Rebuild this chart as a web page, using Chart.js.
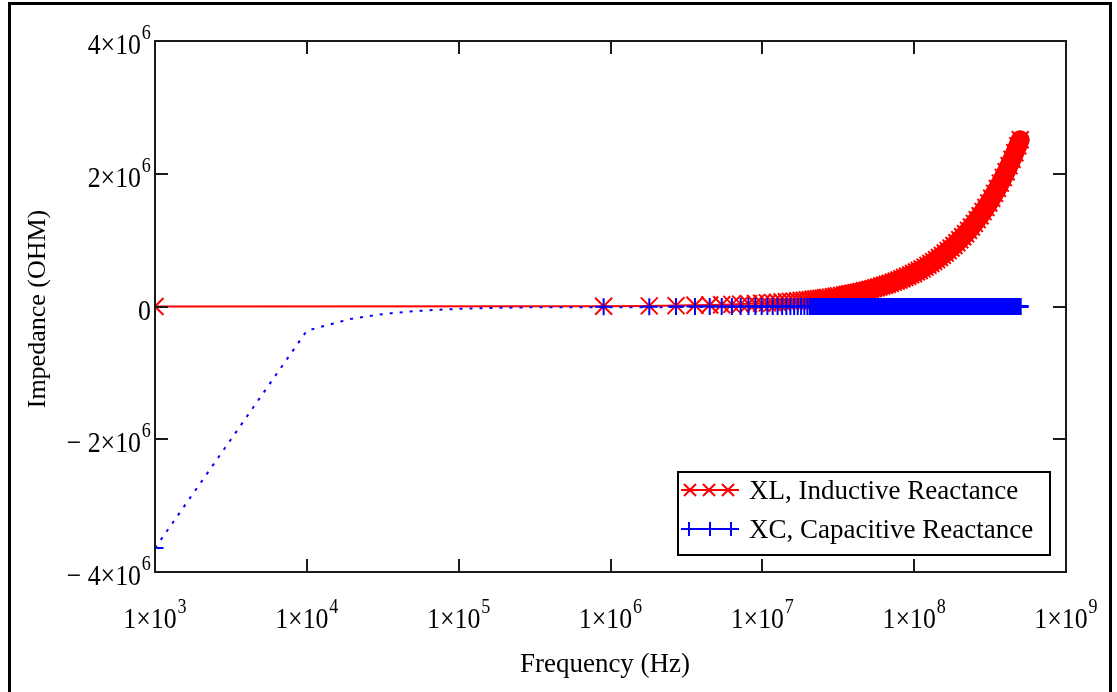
<!DOCTYPE html>
<html>
<head>
<meta charset="utf-8">
<script src="https://cdn.jsdelivr.net/npm/chart.js@4.4.1/dist/chart.umd.min.js"></script>
<style>
  html, body { margin: 0; padding: 0; background: #fff; }
  #wrap { width: 1117px; height: 692px; }
</style>
</head>
<body>
<div id="wrap"><canvas id="plot" width="1117" height="692"></canvas></div>
<script>
const seriesNames = ["XL, Inductive Reactance", "XC, Capacitive Reactance"]
const xTitle = "Frequency (Hz)"
const yTitle = "Impedance (OHM)"

// frequencies where the markers sit (MHz)
const markerFreqMHz = [
  0.001,
  0.901, 1.801, 2.701, 3.601, 4.501, 5.401, 6.301, 7.201, 8.101, 9.001,
  9.901, 10.801, 11.701, 12.601, 13.501, 14.401, 15.301, 16.201, 17.101, 18.001,
  18.901, 19.801,
  20.7, 21.6, 22.5, 23.4, 24.3, 25.2, 26.1, 27.0, 28.2, 29.4,
  30.6, 31.8, 33.3, 34.8, 36.3, 37.8, 39.6, 41.4, 43.2, 45.0,
  47.1, 49.2, 51.3, 53.7, 56.1, 58.5, 61.2, 63.9, 66.6, 69.6,
  72.9, 76.2, 79.5, 83.1, 86.7, 90.6, 94.8, 99.0, 103.5, 108.0,
  112.8, 117.9, 123.3, 128.7, 134.4, 140.4, 146.7, 153.3, 160.2, 167.4,
  174.9, 182.7, 191.1, 199.8, 208.8, 218.1, 228.0, 238.2, 249.0, 260.1,
  271.8, 284.1, 296.7, 310.2, 324.0, 338.7, 353.7, 369.6, 386.4, 403.8,
  421.8, 440.7, 460.5, 481.2, 499.5
]

// inductive reactance (kOhm)
const xlKohm = [
  0.005,
  4.5, 9.1, 13.6, 18.1, 22.6, 27.2, 31.7, 36.2, 40.7, 45.3,
  49.8, 54.3, 58.9, 63.4, 67.9, 72.4, 77.0, 81.5, 86.0, 90.5,
  95.1, 99.6,
  104, 109, 113, 118, 122, 127, 131, 136, 142, 148,
  154, 160, 167, 175, 183, 190, 199, 208, 217, 226,
  237, 247, 258, 270, 282, 294, 308, 321, 335, 350,
  367, 383, 400, 418, 436, 456, 477, 498, 521, 543,
  567, 593, 620, 647, 676, 706, 738, 771, 806, 842,
  880, 919, 961, 1005, 1050, 1097, 1147, 1198, 1252, 1308,
  1367, 1429, 1492, 1560, 1630, 1704, 1779, 1859, 1944, 2031,
  2122, 2217, 2316, 2420, 2512
]

// capacitive reactance (kOhm)
const xcKohm = [
  -3640,
  -4.0, -2.0, -1.35, -1.01, -0.81, -0.67, -0.58, -0.51, -0.45, -0.40,
  -0.37, -0.34, -0.31, -0.29, -0.27, -0.25, -0.24, -0.22, -0.21, -0.20,
  -0.19, -0.18,
  -0.18, -0.17, -0.16, -0.16, -0.15, -0.14, -0.14, -0.13, -0.13, -0.12,
  -0.12, -0.11, -0.11, -0.10, -0.10, -0.10, -0.09, -0.09, -0.08, -0.08,
  -0.08, -0.07, -0.07, -0.07, -0.06, -0.06, -0.06, -0.06, -0.05, -0.05,
  -0.05, -0.05, -0.05, -0.04, -0.04, -0.04, -0.04, -0.04, -0.04, -0.03,
  -0.03, -0.03, -0.03, -0.03, -0.03, -0.03, -0.02, -0.02, -0.02, -0.02,
  -0.02, -0.02, -0.02, -0.02, -0.02, -0.02, -0.02, -0.02, -0.01, -0.01,
  -0.01, -0.01, -0.01, -0.01, -0.01, -0.01, -0.01, -0.01, -0.01, -0.01,
  -0.01, -0.01, -0.01, -0.01, -0.01
]

// dotted XC trace, low frequency part (kHz / kOhm)
const xcCurveFreqKHz = [1, 10, 19, 28, 37, 46, 55, 64, 73, 82, 91, 100, 190, 280, 499500]
const xcCurveKohm = [-3640, -364, -192, -130, -98, -79, -66, -57, -50, -44, -40, -36, -19, -13, -0.01]

const xTickValues = [1e3, 1e4, 1e5, 1e6, 1e7, 1e8, 1e9]
const xTickLabels = ["1×10^3", "1×10^4", "1×10^5", "1×10^6", "1×10^7", "1×10^8", "1×10^9"]
const yTickValues = [-4e6, -2e6, 0, 2e6, 4e6]
const yTickLabels = ["\u2212 4×10^6", "\u2212 2×10^6", "0", "2×10^6", "4×10^6"]

// above these the markers merge into a solid band
const xcBandStartMHz = 20.7
const xlBandStartMHz = 33.3

const xlPoints = markerFreqMHz.map((f, i) => ({x: f * 1e6, y: xlKohm[i] * 1e3}))
const xcPoints = markerFreqMHz.map((f, i) => ({x: f * 1e6, y: xcKohm[i] * 1e3}))
const xlBand = xlPoints.filter(p => p.x >= xlBandStartMHz * 1e6)
const xcBand = xcPoints.filter(p => p.x >= xcBandStartMHz * 1e6)
const xcCurve = xcCurveFreqKHz.map((f, i) => ({x: f * 1e3, y: xcCurveKohm[i] * 1e3}))

const serif = '"Liberation Serif", "Times New Roman", serif'

// label like "1×10^3" -> base text with a raised exponent
const drawPowerLabel = function(ctx, label, px, baseline, align){
    const sx = 0.86
    const parts = label.split("^")
    ctx.font = "30px " + serif
    const wb = ctx.measureText(parts[0]).width * sx
    let we = 0
    if (parts[1]) {
        ctx.font = "21px " + serif
        we = ctx.measureText(parts[1]).width * sx + 1
    }
    const total = wb + we
    const left = align == "center" ? px - total / 2 : px - total
    ctx.save()
    ctx.translate(left, baseline)
    ctx.scale(sx, 1)
    ctx.textAlign = "left"
    ctx.textBaseline = "alphabetic"
    ctx.font = "30px " + serif
    ctx.fillText(parts[0], 0, 0)
    if (parts[1]) {
        ctx.font = "21px " + serif
        ctx.fillText(parts[1], wb / sx + 1, -15)
    }
    ctx.restore()
}

const mathcadFrame = {
    id: "mathcadFrame",
    beforeDraw(chart) {
        const ctx = chart.ctx
        ctx.save()
        ctx.fillStyle = "#fff"
        ctx.fillRect(0, 0, chart.width, chart.height)
        ctx.restore()
    },
    afterDraw(chart) {
        const ctx = chart.ctx
        const a = chart.chartArea
        const x = chart.scales.x
        const y = chart.scales.y
        ctx.save()

        // outer frame (open at the bottom)
        ctx.strokeStyle = "#000"
        ctx.lineWidth = 3
        ctx.beginPath()
        ctx.moveTo(9.5, 700)
        ctx.lineTo(9.5, 3.5)
        ctx.lineTo(1110.5, 3.5)
        ctx.lineTo(1110.5, 700)
        ctx.stroke()

        // plot box and inward ticks
        ctx.strokeStyle = "#1a1a1a"
        ctx.lineWidth = 2
        ctx.strokeRect(a.left, a.top, a.right - a.left, a.bottom - a.top)
        ctx.beginPath()
        xTickValues.forEach(v => {
            const px = Math.round(x.getPixelForValue(v))
            if (px <= a.left + 1 || px >= a.right - 1) return
            ctx.moveTo(px, a.top); ctx.lineTo(px, a.top + 13)
            ctx.moveTo(px, a.bottom); ctx.lineTo(px, a.bottom - 13)
        })
        yTickValues.forEach(v => {
            const py = Math.round(y.getPixelForValue(v))
            if (py <= a.top + 1 || py >= a.bottom - 1) return
            ctx.moveTo(a.left, py); ctx.lineTo(a.left + 13, py)
            ctx.moveTo(a.right, py); ctx.lineTo(a.right - 13, py)
        })
        ctx.stroke()

        // tick labels
        ctx.fillStyle = "#000"
        xTickValues.forEach((v, i) => {
            drawPowerLabel(ctx, xTickLabels[i], x.getPixelForValue(v), 628, "center")
        })
        yTickValues.forEach((v, i) => {
            drawPowerLabel(ctx, yTickLabels[i], a.left - 4, y.getPixelForValue(v) + 13, "right")
        })

        // axis titles
        ctx.font = "27px " + serif
        ctx.textAlign = "center"
        ctx.textBaseline = "alphabetic"
        ctx.fillText(xTitle, 605, 672)
        ctx.save()
        ctx.translate(45, 309)
        ctx.rotate(-Math.PI / 2)
        ctx.font = "26px " + serif
        ctx.fillText(yTitle, 0, 0)
        ctx.restore()

        // legend box
        ctx.fillStyle = "#fff"
        ctx.fillRect(678, 472, 372, 83)
        ctx.strokeStyle = "#000"
        ctx.lineWidth = 2
        ctx.strokeRect(678, 472, 372, 83)

        // legend samples
        ctx.lineWidth = 2
        ctx.strokeStyle = "#ff0000"
        ctx.beginPath()
        ctx.moveTo(681, 490); ctx.lineTo(739, 490)
        ;[690, 709, 728].forEach(cx => {
            ctx.moveTo(cx - 6, 484); ctx.lineTo(cx + 6, 496)
            ctx.moveTo(cx - 6, 496); ctx.lineTo(cx + 6, 484)
        })
        ctx.stroke()
        ctx.strokeStyle = "#0000ff"
        ctx.beginPath()
        ctx.moveTo(681, 529); ctx.lineTo(739, 529)
        ;[689, 710, 731].forEach(cx => {
            ctx.moveTo(cx, 522); ctx.lineTo(cx, 536)
        })
        ctx.stroke()

        ctx.fillStyle = "#000"
        ctx.font = "27px " + serif
        ctx.textAlign = "left"
        ctx.fillText(seriesNames[0], 749, 499)
        ctx.fillText(seriesNames[1], 749, 538)

        ctx.restore()
    }
}

const chart = new Chart(document.getElementById("plot"), {
    type: "line",
    data: {
        datasets: [
            {
                label: "xl band",
                data: xlBand,
                borderColor: "#ff0000",
                borderWidth: 19,
                borderCapStyle: "round",
                borderJoinStyle: "round",
                pointRadius: 0,
                clip: 0,
                order: 4
            },
            {
                label: seriesNames[0],
                data: xlPoints,
                borderColor: "#ff0000",
                borderWidth: 2,
                pointStyle: "crossRot",
                pointRadius: 12,
                pointBorderColor: "#ff0000",
                pointBorderWidth: 2,
                clip: 0,
                order: 3
            },
            {
                label: "xc band",
                data: xcBand,
                borderColor: "#0000ff",
                borderWidth: 17,
                borderCapStyle: "butt",
                pointRadius: 0,
                clip: 0,
                order: 2
            },
            {
                label: seriesNames[1],
                data: xcPoints,
                showLine: false,
                pointStyle: "cross",
                pointRadius: 8.5,
                pointBorderColor: "#0000ff",
                pointBorderWidth: c => (c.raw && c.raw.x >= xcBandStartMHz * 1e6) ? 3 : 2,
                clip: 0,
                order: 1
            },
            {
                label: "xc curve",
                data: xcCurve,
                borderColor: "#0000ff",
                borderWidth: 2,
                borderDash: [3, 7],
                pointRadius: 0,
                clip: 0,
                order: 0
            }
        ]
    },
    options: {
        responsive: false,
        animation: false,
        events: [],
        layout: { padding: { left: 155, right: 51, top: 41, bottom: 120 } },
        plugins: {
            legend: { display: false },
            tooltip: { enabled: false }
        },
        scales: {
            x: { type: "logarithmic", min: 1e3, max: 1e9, display: false },
            y: { type: "linear", min: -4e6, max: 4e6, display: false }
        }
    },
    plugins: [mathcadFrame]
})
</script>
</body>
</html>
